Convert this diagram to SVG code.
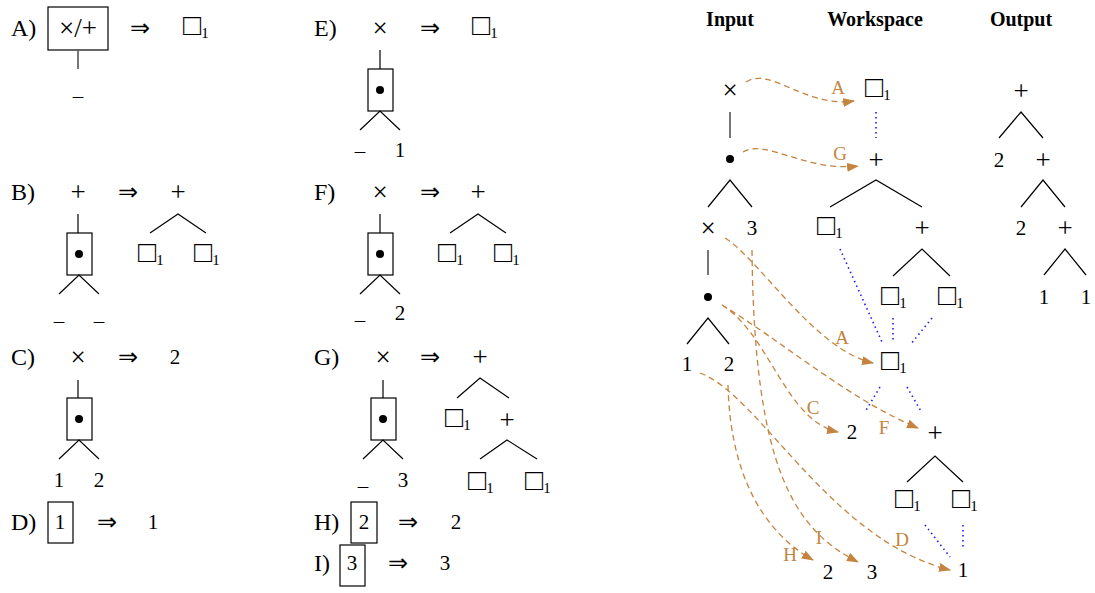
<svg xmlns="http://www.w3.org/2000/svg" width="1095" height="593" viewBox="0 0 1095 593">
<defs>
<style>
text{font-family:"Liberation Serif","DejaVu Serif",serif;fill:#000}
.t{font-size:21px;text-anchor:middle}
.s{font-size:27px;text-anchor:middle}
.ar{font-family:"DejaVu Sans",sans-serif;font-weight:200;font-size:24px;text-anchor:middle}
.ts{font-size:21px}
.sq{font-size:30px}
.lab{font-size:24px}
.sub{font-size:15px}
.hd{font-size:20px;font-weight:bold;text-anchor:middle}
.ol{font-size:19px;fill:#c4843f;text-anchor:middle}
.ln{stroke:#000;stroke-width:1.2;fill:none}
.vl{stroke:#555;stroke-width:1.6;fill:none}
.bx{stroke:#000;stroke-width:1.2;fill:#fff}
.dot{fill:#000}
.dsh{stroke:#c4843f;stroke-width:1.3;fill:none;stroke-dasharray:6 4;marker-end:url(#ah)}
.blu{stroke:#1a1aff;stroke-width:1.6;fill:none;stroke-dasharray:1.5 3.5}
</style>
<marker id="ah" markerUnits="userSpaceOnUse" markerWidth="12" markerHeight="9" refX="11" refY="4.5" orient="auto"><path d="M0,0 L12,4.5 L0,9 z" fill="#c4843f"/></marker>
</defs>

<!-- LEFT PANEL -->
<g id="ruleA">
<text class="lab" x="11" y="36">A)</text>
<rect class="bx" x="48" y="7" width="60" height="43"/>
<text class="s" x="78" y="37">×/+</text>
<line class="vl" x1="78" y1="50" x2="78" y2="69"/>
<text class="t" x="78" y="103">–</text>
<text class="ar" x="140" y="36">⇒</text>
<text class="ts" x="183" y="35"><tspan class="sq">□</tspan><tspan class="sub" dy="3">1</tspan></text>
</g>

<g id="ruleB">
<text class="lab" x="11" y="200">B)</text>
<text class="s" x="78" y="201">+</text>
<line class="ln" x1="78" y1="214" x2="78" y2="233"/>
<rect class="bx" x="67" y="233" width="25" height="42"/>
<circle class="dot" cx="79" cy="254" r="4"/>
<path class="ln" d="M59,294 L79,275 L99,294"/>
<text class="t" x="59" y="328">–</text>
<text class="t" x="99" y="328">–</text>
<text class="ar" x="128" y="200">⇒</text>
<text class="s" x="178" y="201">+</text>
<path class="ln" d="M150,233 L178,214 L206,233"/>
<text class="ts" x="138" y="262"><tspan class="sq">□</tspan><tspan class="sub" dy="3">1</tspan></text>
<text class="ts" x="194" y="262"><tspan class="sq">□</tspan><tspan class="sub" dy="3">1</tspan></text>
</g>

<g id="ruleC">
<text class="lab" x="11" y="365">C)</text>
<text class="s" x="78" y="366">×</text>
<line class="ln" x1="78" y1="380" x2="78" y2="398"/>
<rect class="bx" x="67" y="398" width="25" height="42"/>
<circle class="dot" cx="79" cy="419" r="4"/>
<path class="ln" d="M59,459 L79,440 L99,459"/>
<text class="t" x="59" y="487">1</text>
<text class="t" x="99" y="487">2</text>
<text class="ar" x="128" y="365">⇒</text>
<text class="t" x="175" y="364">2</text>
</g>

<g id="ruleD">
<text class="lab" x="11" y="530">D)</text>
<rect class="bx" x="48" y="502" width="25" height="41"/>
<text class="t" x="60" y="529">1</text>
<text class="ar" x="107" y="530">⇒</text>
<text class="t" x="153" y="529">1</text>
</g>

<g id="ruleE">
<text class="lab" x="314" y="36">E)</text>
<text class="s" x="380" y="37">×</text>
<line class="ln" x1="380" y1="50" x2="380" y2="69"/>
<rect class="bx" x="368" y="69" width="25" height="42"/>
<circle class="dot" cx="380" cy="90" r="4"/>
<path class="ln" d="M360,130 L380,111 L400,130"/>
<text class="t" x="360" y="158">–</text>
<text class="t" x="400" y="157">1</text>
<text class="ar" x="430" y="36">⇒</text>
<text class="ts" x="472" y="35"><tspan class="sq">□</tspan><tspan class="sub" dy="3">1</tspan></text>
</g>

<g id="ruleF">
<text class="lab" x="314" y="200">F)</text>
<text class="s" x="380" y="201">×</text>
<line class="ln" x1="380" y1="214" x2="380" y2="233"/>
<rect class="bx" x="368" y="233" width="25" height="42"/>
<circle class="dot" cx="380" cy="254" r="4"/>
<path class="ln" d="M360,294 L380,275 L400,294"/>
<text class="t" x="360" y="327">–</text>
<text class="t" x="400" y="320">2</text>
<text class="ar" x="430" y="200">⇒</text>
<text class="s" x="478" y="201">+</text>
<path class="ln" d="M450,233 L478,214 L506,233"/>
<text class="ts" x="438" y="262"><tspan class="sq">□</tspan><tspan class="sub" dy="3">1</tspan></text>
<text class="ts" x="494" y="262"><tspan class="sq">□</tspan><tspan class="sub" dy="3">1</tspan></text>
</g>

<g id="ruleG">
<text class="lab" x="314" y="365">G)</text>
<text class="s" x="383" y="366">×</text>
<line class="ln" x1="383" y1="380" x2="383" y2="398"/>
<rect class="bx" x="371" y="398" width="25" height="42"/>
<circle class="dot" cx="383" cy="419" r="4"/>
<path class="ln" d="M363,459 L383,440 L403,459"/>
<text class="t" x="363" y="493">–</text>
<text class="t" x="403" y="487">3</text>
<text class="ar" x="430" y="365">⇒</text>
<text class="s" x="480" y="366">+</text>
<path class="ln" d="M457,398 L480,378 L509,398"/>
<text class="ts" x="445" y="427"><tspan class="sq">□</tspan><tspan class="sub" dy="3">1</tspan></text>
<text class="s" x="507" y="429">+</text>
<path class="ln" d="M480,459 L507,440 L537,459"/>
<text class="ts" x="468" y="490"><tspan class="sq">□</tspan><tspan class="sub" dy="3">1</tspan></text>
<text class="ts" x="525" y="490"><tspan class="sq">□</tspan><tspan class="sub" dy="3">1</tspan></text>
</g>

<g id="ruleH">
<text class="lab" x="314" y="530">H)</text>
<rect class="bx" x="351" y="502" width="26" height="41"/>
<text class="t" x="364" y="529">2</text>
<text class="ar" x="408" y="530">⇒</text>
<text class="t" x="456" y="529">2</text>
</g>

<g id="ruleI">
<text class="lab" x="314" y="571">I)</text>
<rect class="bx" x="340" y="545" width="25" height="41"/>
<text class="t" x="352" y="570">3</text>
<text class="ar" x="398" y="571">⇒</text>
<text class="t" x="445" y="570">3</text>
</g>

<!-- RIGHT PANEL -->
<g id="headers">
<text class="hd" x="730" y="26">Input</text>
<text class="hd" x="875" y="26">Workspace</text>
<text class="hd" x="1021" y="26">Output</text>
</g>

<g id="input">
<text class="s" x="730" y="99">×</text>
<line class="vl" x1="730" y1="112" x2="730" y2="138"/>
<circle class="dot" cx="730" cy="159" r="4"/>
<path class="ln" d="M708,207 L730,180 L752,207"/>
<text class="s" x="708" y="237">×</text>
<text class="t" x="752" y="235">3</text>
<line class="vl" x1="708" y1="250" x2="708" y2="275"/>
<circle class="dot" cx="708" cy="297" r="4"/>
<path class="ln" d="M687,344 L708,318 L729,344"/>
<text class="t" x="687" y="371">1</text>
<text class="t" x="729" y="371">2</text>
</g>

<g id="workspace">
<text class="ts" x="865" y="97"><tspan class="sq">□</tspan><tspan class="sub" dy="3">1</tspan></text>
<text class="s" x="876" y="169">+</text>
<path class="ln" d="M830,207 L876,180 L922,207"/>
<text class="ts" x="817" y="235"><tspan class="sq">□</tspan><tspan class="sub" dy="3">1</tspan></text>
<text class="s" x="922" y="237">+</text>
<path class="ln" d="M893,276 L922,249 L950,276"/>
<text class="ts" x="881" y="305"><tspan class="sq">□</tspan><tspan class="sub" dy="3">1</tspan></text>
<text class="ts" x="938" y="305"><tspan class="sq">□</tspan><tspan class="sub" dy="3">1</tspan></text>
<text class="ts" x="881" y="370"><tspan class="sq">□</tspan><tspan class="sub" dy="3">1</tspan></text>
<text class="t" x="852" y="439">2</text>
<text class="s" x="935" y="442">+</text>
<path class="ln" d="M907,482 L935,456 L963,482"/>
<text class="ts" x="895" y="508"><tspan class="sq">□</tspan><tspan class="sub" dy="3">1</tspan></text>
<text class="ts" x="952" y="508"><tspan class="sq">□</tspan><tspan class="sub" dy="3">1</tspan></text>
<text class="t" x="828" y="579">2</text>
<text class="t" x="872" y="579">3</text>
<text class="t" x="963" y="577">1</text>
</g>

<g id="output">
<text class="s" x="1021" y="100">+</text>
<path class="ln" d="M999,138 L1021,112 L1043,138"/>
<text class="t" x="999" y="167">2</text>
<text class="s" x="1043" y="169">+</text>
<path class="ln" d="M1021,207 L1043,180 L1065,207"/>
<text class="t" x="1021" y="235">2</text>
<text class="s" x="1065" y="237">+</text>
<path class="ln" d="M1044,275 L1065,249 L1086,275"/>
<text class="t" x="1044" y="304">1</text>
<text class="t" x="1086" y="304">1</text>
</g>

<g id="connectors">
<line class="blu" x1="876" y1="112" x2="876" y2="138"/>
<line class="blu" x1="840" y1="249" x2="882" y2="342"/>
<line class="blu" x1="893" y1="318" x2="893" y2="342"/>
<line class="blu" x1="932" y1="318" x2="911" y2="344"/>
<line class="blu" x1="880" y1="387" x2="865" y2="412"/>
<line class="blu" x1="907" y1="387" x2="922" y2="413"/>
<line class="blu" x1="925" y1="525" x2="950" y2="557"/>
<line class="blu" x1="963" y1="525" x2="963" y2="549"/>

<path class="dsh" d="M746,82 C770,66 805,108 854,101"/>
<path class="dsh" d="M743,152 C765,138 805,172 858,166"/>
<path class="dsh" d="M725,238 C760,260 815,350 873,363"/>
<path class="dsh" d="M722,305 C780,340 850,400 918,428"/>
<path class="dsh" d="M722,305 C770,335 785,420 838,432"/>
<path class="dsh" d="M752,250 C754,470 795,530 858,562"/>
<path class="dsh" d="M728,385 C730,470 760,530 813,560"/>
<path class="dsh" d="M700,373 C760,395 830,540 950,570"/>

<text class="ol" x="838" y="94">A</text>
<text class="ol" x="840" y="160">G</text>
<text class="ol" x="842" y="344">A</text>
<text class="ol" x="813" y="414">C</text>
<text class="ol" x="884" y="434">F</text>
<text class="ol" x="790" y="561">H</text>
<text class="ol" x="819" y="544">I</text>
<text class="ol" x="902" y="546">D</text>
</g>
</svg>
